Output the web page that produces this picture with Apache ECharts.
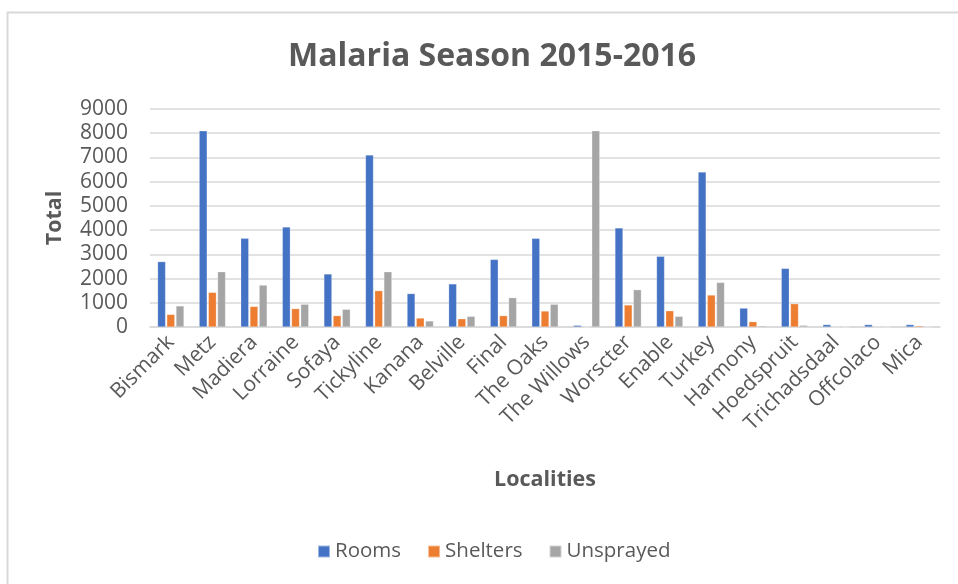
<!DOCTYPE html>
<html>
<head>
<meta charset="utf-8">
<script src="https://cdn.jsdelivr.net/npm/echarts@6/dist/echarts.min.js"></script>
<style>html,body{margin:0;padding:0;background:#fff;}#c{width:958px;height:584px;}</style>
</head>
<body>
<div id="c"></div>
<script>
const categories = ["Bismark","Metz","Madiera","Lorraine","Sofaya","Tickyline","Kanana","Belville","Final","The Oaks","The Willows","Worscter","Enable","Turkey","Harmony","Hoedspruit","Trichadsdaal","Offcolaco","Mica"];
const rooms     = [2700, 8100, 3660, 4130, 2190, 7100, 1380, 1780, 2790, 3660, 70, 4090, 2920, 6400, 780, 2420, 100, 100, 100];
const shelters  = [520, 1430, 850, 760, 470, 1500, 370, 340, 470, 660, 0, 910, 670, 1320, 220, 960, 0, 0, 50];
const unsprayed = [870, 2280, 1730, 940, 730, 2280, 250, 440, 1210, 940, 8100, 1540, 440, 1840, 50, 70, 0, 0, 0];
const seriesNames = ["Rooms", "Shelters", "Unsprayed"];
const yTicks = { min: 0, max: 9000, interval: 1000 };

const FONT = "'Open Sans', 'Liberation Sans', sans-serif";
const TXT = "#595959";
const colors = ["#4472C4", "#ED7D31", "#A5A5A5"];

const chart = echarts.init(document.getElementById('c'), null, { renderer: 'canvas' });
const mk = (name, data, i) => ({
  name, type: 'bar', data, barWidth: 8, barGap: '15%',
  itemStyle: { color: colors[i], borderColor: 'rgba(255,255,255,0.5)', borderWidth: 0.5 }
});
chart.setOption({
  animation: false,
  backgroundColor: '#fff',
  textStyle: { fontFamily: FONT },
  graphic: [{ type: 'rect', left: 5, top: 10, shape: { width: 970, height: 600 }, style: { fill: 'none', stroke: '#d9d9d9', lineWidth: 2 }, silent: true }],
  title: {
    text: "Malaria Season 2015-2016", left: 283, top: 36,
    textStyle: { fontFamily: FONT, fontSize: 32, fontWeight: 'bold', color: TXT }
  },
  legend: {
    bottom: 17, left: 312, icon: 'rect', itemWidth: 12, itemHeight: 12, itemGap: 26,
    textStyle: { fontFamily: FONT, fontSize: 20.5, color: TXT }
  },
  grid: { left: 150, right: 18, top: 109, bottom: 257, containLabel: false },
  xAxis: {
    type: 'category', data: categories,
    name: 'Localities', nameLocation: 'middle', nameGap: 142,
    nameTextStyle: { fontFamily: FONT, fontSize: 21.5, fontWeight: 'bold', color: TXT },
    axisLine: { lineStyle: { color: '#d9d9d9', width: 1.5 } },
    axisTick: { show: false },
    axisLabel: { rotate: 45, interval: 0, margin: 12, fontFamily: FONT, fontSize: 21, color: TXT }
  },
  yAxis: {
    type: 'value', min: yTicks.min, max: yTicks.max, interval: yTicks.interval,
    name: 'Total', nameLocation: 'middle', nameGap: 84,
    nameTextStyle: { fontFamily: FONT, fontSize: 21.5, fontWeight: 'bold', color: TXT },
    axisLine: { show: false }, axisTick: { show: false },
    axisLabel: { margin: 22, fontFamily: FONT, fontSize: 21, color: TXT, formatter: v => String(v) },
    splitLine: { lineStyle: { color: '#d9d9d9', width: 1.5 } }
  },
  series: [mk(seriesNames[0], rooms, 0), mk(seriesNames[1], shelters, 1), mk(seriesNames[2], unsprayed, 2)]
});
</script>
</body>
</html>
